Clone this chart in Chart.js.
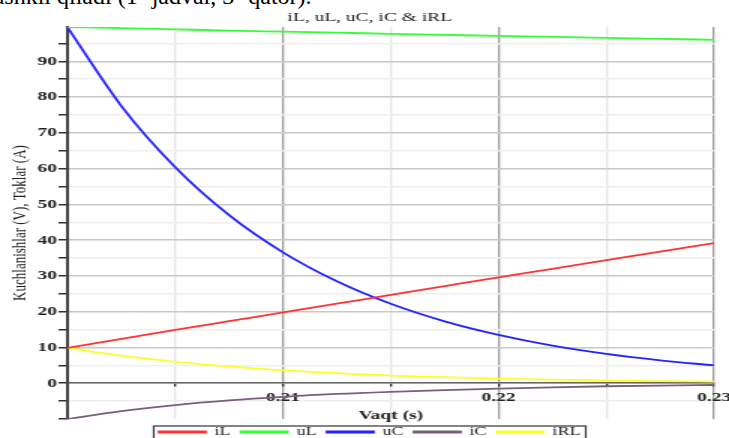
<!DOCTYPE html>
<html>
<head>
<meta charset="utf-8">
<script src="https://cdn.jsdelivr.net/npm/chart.js@4.4.1/dist/chart.umd.min.js"></script>
<style>
  html, body { margin: 0; padding: 0; background: #fff; overflow: hidden; }
  body { width: 729px; height: 438px; position: relative; }
  #doc-line { position: absolute; left: -13px; top: -16px; font: 24px/24px "Liberation Serif", serif; color: #000; white-space: nowrap; }
  #chart { position: absolute; left: 0; top: 0; }
</style>
</head>
<body>
<div id="doc-line">tashkil qiladi (1- jadval, 3- qator).</div>
<!-- the plot in the document is stretched sideways, so the canvas is too (inline size so Chart.js keeps it) -->
<canvas id="chart" width="486" height="448" style="width:729px;height:448px"></canvas>
<script>
// values, time in seconds
const time = [0.2, 0.2025, 0.205, 0.2075, 0.21, 0.2125, 0.215, 0.2175, 0.22, 0.2225, 0.225, 0.2275, 0.23];
const iL  = [9.9, 12.4, 14.9, 17.35, 19.8, 22.25, 24.7, 27.15, 29.6, 32.0, 34.4, 36.8, 39.2];
const uL  = [99.6, 99.3, 98.95, 98.6, 98.3, 98.0, 97.7, 97.4, 97.1, 96.85, 96.55, 96.3, 96.0];
const uC  = [99.5, 77.5, 60.4, 47.0, 36.6, 28.5, 22.2, 17.3, 13.5, 10.5, 8.2, 6.4, 5.0];
const iC  = [-10, -7.8, -6.1, -4.8, -3.8, -3.0, -2.4, -1.9, -1.5, -1.15, -0.85, -0.65, -0.5];
const iRL = [9.9, 7.7, 6.0, 4.7, 3.6, 2.8, 2.15, 1.7, 1.3, 1.0, 0.8, 0.6, 0.45];

const seriesNames  = ['iL', 'uL', 'uC', 'iC', 'iRL'];
const seriesValues = [iL, uL, uC, iC, iRL];
const seriesColors = ['#ff3333', '#33ff33', '#2323ff', '#76607a', '#ffff22'];

// tick labels that are printed (the rest of the ticks stay blank)
const xTickLabels = ['0.21', '0.22', '0.23'];
const yTickLabels = [0, 10, 20, 30, 40, 50, 60, 70, 80, 90];

const serif = 'Liberation Serif';

// thin frame around the legend row, like the maple one
const legendFrame = {
    id: 'legendFrame',
    afterDraw(chart) {
        const boxes = chart.legend && chart.legend.legendHitBoxes;
        if (!boxes || !boxes.length) return;
        const first = boxes[0];
        const last = boxes[boxes.length - 1];
        const ctx = chart.ctx;
        ctx.save();
        ctx.strokeStyle = '#333';
        ctx.lineWidth = 1.2;
        ctx.strokeRect(first.left - 3.5, first.top, last.left + last.width - first.left + 7, chart.height);
        ctx.restore();
    }
};

new Chart(document.getElementById('chart'), {
    type: 'line',
    data: {
        datasets: seriesNames.map((name, i) => ({
            label: name,
            data: time.map((t, j) => ({ x: t, y: seriesValues[i][j] })),
            borderColor: seriesColors[i],
            backgroundColor: seriesColors[i],
            borderWidth: 1.8,
            pointRadius: 0,
            cubicInterpolationMode: 'monotone',
            fill: false
        }))
    },
    options: {
        responsive: false,
        animation: false,
        events: [],
        // left padding nudges the title and legend to where maple centred them
        layout: { padding: { left: 17, right: 10 } },
        plugins: {
            title: {
                display: true,
                text: 'iL, uL, uC, iC & iRL',
                color: '#222',
                font: { family: serif, size: 13, weight: 'normal' },
                padding: { top: 10, bottom: 1.4 }
            },
            legend: {
                position: 'bottom',
                labels: {
                    boxWidth: 31,
                    boxHeight: 1,
                    padding: 7,
                    color: '#222',
                    font: { family: serif, size: 12, weight: 'normal' }
                }
            },
            tooltip: { enabled: false }
        },
        scales: {
            x: {
                type: 'linear',
                position: { y: 0 },
                min: 0.2,
                max: 0.23,
                afterFit: s => { s.paddingLeft = 0; s.paddingRight = 0; },
                border: { color: '#666', width: 1.5 },
                grid: {
                    color: c => Math.round(c.tick.value * 1000) % 10 === 0 ? '#9c9c9c' : '#e4e4e4',
                    lineWidth: 1.3,
                    tickLength: 3,
                    tickColor: '#222'
                },
                ticks: {
                    stepSize: 0.005,
                    padding: 5,
                    maxRotation: 0,
                    autoSkip: false,
                    color: '#222',
                    font: { family: serif, size: 13, weight: 'bold', lineHeight: 1 },
                    callback: v => xTickLabels.includes(v.toFixed(2)) && Math.round(v * 1000) % 10 === 0 ? v.toFixed(2) : ''
                },
                title: {
                    display: true,
                    text: 'Vaqt (s)',
                    color: '#222',
                    font: { family: serif, size: 13, weight: 'bold', lineHeight: 1 },
                    padding: 0
                }
            },
            y: {
                min: -10,
                max: 99.6,
                afterFit: s => { s.width = 28; },
                border: { color: '#444', width: 2 },
                grid: {
                    color: c => {
                        const v = c.tick.value;
                        if (v <= -10) return 'rgba(0,0,0,0)';
                        return v % 10 === 0 ? '#c8c8c8' : '#efefef';
                    },
                    lineWidth: 1.5,
                    tickLength: 6,
                    tickColor: '#333'
                },
                ticks: {
                    stepSize: 5,
                    includeBounds: false,
                    padding: 1,
                    autoSkip: false,
                    color: '#222',
                    font: { family: serif, size: 13, weight: 'bold' },
                    callback: v => yTickLabels.includes(v) ? String(v) : ''
                },
                title: {
                    display: true,
                    text: 'Kuchlanishlar (V), Toklar (A)',
                    color: '#222',
                    font: { family: serif, size: 13, lineHeight: 1 },
                    padding: { top: -10, bottom: 0 }
                }
            }
        }
    },
    plugins: [legendFrame]
});
</script>
</body>
</html>
